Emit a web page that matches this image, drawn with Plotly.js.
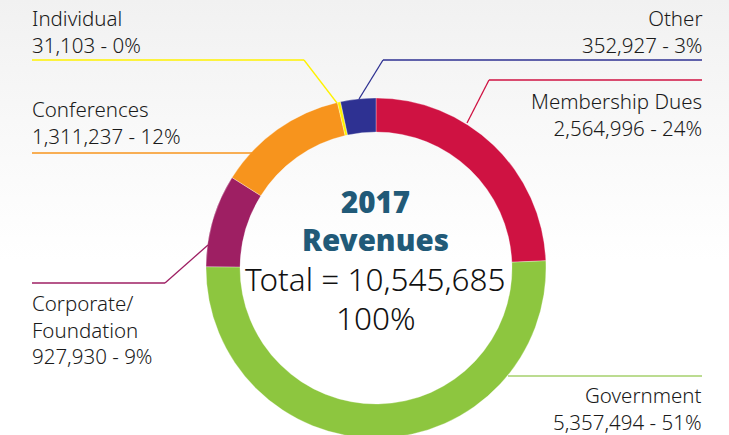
<!DOCTYPE html>
<html>
<head>
<meta charset="utf-8">
<script src="https://cdn.plot.ly/plotly-3.0.1.min.js"></script>
<style>
html,body{margin:0;padding:0;overflow:hidden;width:729px;height:435px;
background:linear-gradient(to bottom,#f1f1f1 0px,#f8f8f8 120px,#ffffff 260px,#ffffff 435px);}
#chart{width:729px;height:450px;}
</style>
</head>
<body>
<div id="chart"></div>
<script>
// Data (clockwise from 12 o'clock)
const categories = ["Membership Dues","Government","Corporate/<br>Foundation","Conferences","Individual","Other"];
const revenues   = [2564996, 5357494, 927930, 1311237, 31103, 352927];
const sliceColors = ["#cf1242","#8dc63f","#9e1f63","#f7941d","#fff200","#2e3192"];
const titleLines = ["2017","Revenues"];
const totalText = "Total = 10,545,685";
const totalPct = "100%";

const W = 729, H = 450;
const px = x => x / W;
const py = y => 1 - y / H;

const sum = revenues.reduce((a,b)=>a+b,0);
const fmt = v => v.toLocaleString("en-US");
const pct = v => Math.round(v / sum * 100) + "%";

const trace = {
  type: "pie",
  values: revenues,
  labels: categories.map(c => c.replace("<br>","")),
  marker: {colors: sliceColors, line: {color: "rgba(255,255,255,0.6)", width: 0.5}},
  sort: false,
  direction: "clockwise",
  rotation: 0,
  hole: 0.8,
  textinfo: "none",
  hoverinfo: "label+value+percent",
  showlegend: false,
  domain: {x: [px(206), px(546)], y: [py(438), py(98)]}
};

// label placement (layout only)
const labelPos = [
  {x: 703, y: 114, anchor: "right"},  // Membership
  {x: 703, y: 408, anchor: "right"},  // Government
  {x: 31,  y: 329, anchor: "left"},   // Corporate
  {x: 31,  y: 123, anchor: "left"},   // Conferences
  {x: 31,  y: 31,  anchor: "left"},   // Individual
  {x: 703, y: 31,  anchor: "right"}   // Other
];
const lineFont = {family: "'Noto Sans', sans-serif", size: 20.5, color: "#1a1a1a", weight: 300};

const annotations = categories.map((c, i) => ({
  xref: "paper", yref: "paper",
  x: px(labelPos[i].x), y: py(labelPos[i].y),
  xanchor: labelPos[i].anchor, yanchor: "middle",
  align: labelPos[i].anchor,
  showarrow: false, borderpad: 0,
  text: c + "<br>" + fmt(revenues[i]) + " - " + pct(revenues[i]),
  font: lineFont
}));

const centerFontBold = {family: "'Noto Sans', sans-serif", size: 29.5, color: "#215a78", weight: 900};
const centerFont = {family: "'Noto Sans', sans-serif", size: 31.5, color: "#111111", weight: 300};
[[titleLines[0],201,centerFontBold],[titleLines[1],239,centerFontBold],[totalText,278,centerFont],[totalPct,317,centerFont]]
  .forEach(([t,y,f]) => annotations.push({xref:"paper",yref:"paper",x:px(376),y:py(y),xanchor:"center",yanchor:"middle",showarrow:false,borderpad:0,text:t,font:f}));

// leader lines (pixel geometry)
const legLines = [
  {c: sliceColors[0], pts: [[702,80],[489,80],[467,123]]},
  {c: "#a6d16d",      pts: [[702,376],[508,376]]},
  {c: sliceColors[2], pts: [[32,283],[165,283],[208,245]]},
  {c: sliceColors[3], pts: [[32,153],[252,153]]},
  {c: "#fff200",      pts: [[32,60],[304,60],[337,103]]},
  {c: sliceColors[5], pts: [[702,60],[383,60],[359,99]]}
];
const shapes = [];
legLines.forEach(l => {
  for (let k = 0; k < l.pts.length - 1; k++) {
    shapes.push({type: "line", xref: "paper", yref: "paper",
      x0: px(l.pts[k][0]), y0: py(l.pts[k][1]), x1: px(l.pts[k+1][0]), y1: py(l.pts[k+1][1]),
      line: {color: l.c, width: 1.3}});
  }
});

const layout = {
  width: W, height: H,
  margin: {l: 0, r: 0, t: 0, b: 0},
  paper_bgcolor: "rgba(0,0,0,0)",
  plot_bgcolor: "rgba(0,0,0,0)",
  annotations: annotations,
  shapes: shapes
};
Plotly.newPlot("chart", [trace], layout, {displayModeBar: false, staticPlot: true});
</script>
</body>
</html>
